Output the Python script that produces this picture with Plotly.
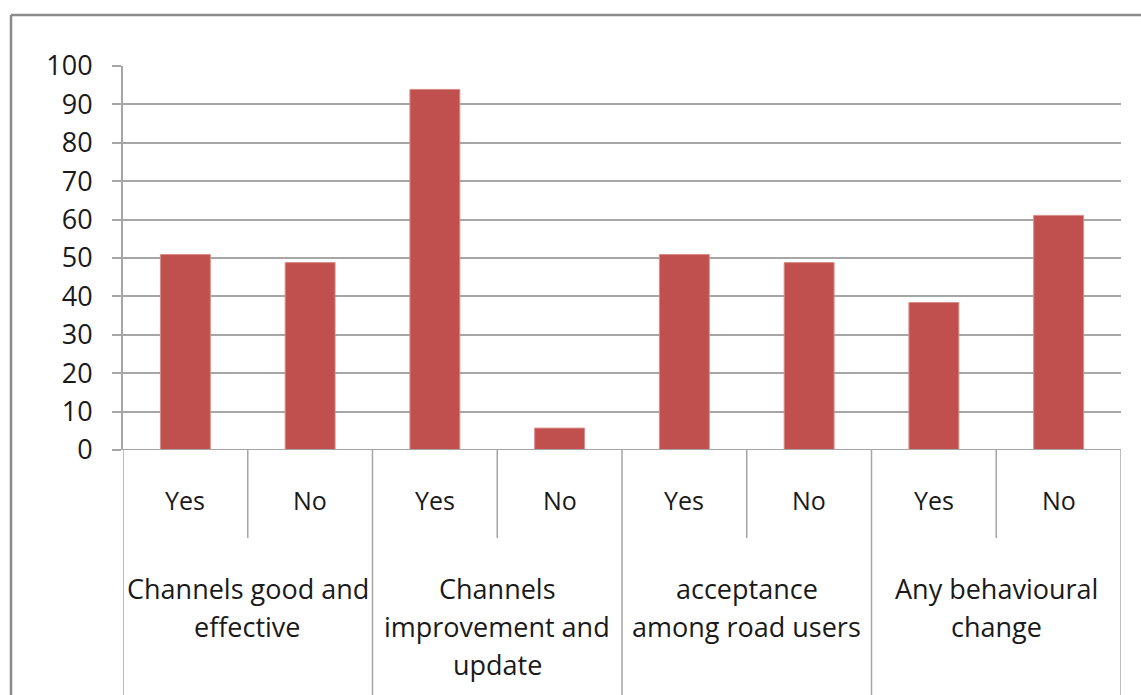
import plotly.graph_objects as go

# Survey responses (percent)
groups = [
    ["Channels good and", "effective"],
    ["Channels", "improvement and", "update"],
    ["acceptance", "among road users"],
    ["Any behavioural", "change"],
]
answers = ["Yes", "No", "Yes", "No", "Yes", "No", "Yes", "No"]
values = [50.9, 48.8, 93.9, 5.7, 50.9, 48.8, 38.4, 61.1]
y_ticks = [0, 10, 20, 30, 40, 50, 60, 70, 80, 90, 100]

W, H = 1141, 695
M_L, M_R, M_T, M_B = 123, 20, 66, 245
plot_h = H - M_T - M_B
FONT = "Open Sans"
TXT = "#1a1a1a"
GRID = "#a6a6a6"

def py(px_from_base):
    """paper y for a pixel distance below the x axis baseline"""
    return -px_from_base / plot_h

xs = list(range(len(values)))

fig = go.Figure(go.Bar(
    x=xs, y=values, width=0.4,
    marker=dict(color="#C0504D", line=dict(color="#d98c8a", width=1)),
    hoverinfo="skip",
))

shapes = []
annotations = []

# baseline extends into the tick zone on the left
shapes.append(dict(type="line", xref="paper", yref="y", x0=-9 / (W - M_L - M_R), x1=1,
                   y0=0, y1=0, line=dict(color=GRID, width=2)))

# answer labels and short dividers between them
n_per = 2
for i, a in enumerate(answers):
    annotations.append(dict(x=xs[i], y=py(50), xref="x", yref="paper", text=a,
                            showarrow=False, yanchor="middle", xanchor="center",
                            font=dict(family=FONT, size=25, color=TXT)))
for g in range(len(groups)):
    mid = g * n_per + 0.5
    shapes.append(dict(type="line", xref="x", yref="paper", x0=mid, x1=mid,
                       y0=0, y1=py(88), line=dict(color=GRID, width=1.5)))

# group dividers running to the bottom
for g in range(len(groups) + 1):
    bx = g * n_per - 0.5
    shapes.append(dict(type="line", xref="x", yref="paper", x0=bx, x1=bx,
                       y0=0, y1=py(260), line=dict(color=GRID, width=1.5)))

# group labels, one annotation per line
for g, lines in enumerate(groups):
    cx = g * n_per + 0.5
    for k, line in enumerate(lines):
        annotations.append(dict(x=cx, y=py(138 + 38 * k), xref="x", yref="paper",
                                text=line, showarrow=False, yanchor="middle",
                                xanchor="center",
                                font=dict(family=FONT, size=27, color=TXT)))

# chart frame (top and left edges visible)
pw = W - M_L - M_R
shapes.append(dict(type="line", xref="paper", yref="paper",
                   x0=(11 - M_L) / pw, x1=(W + 5 - M_L) / pw,
                   y0=(449.5 - 14.5) / plot_h, y1=(449.5 - 14.5) / plot_h,
                   line=dict(color="#8a8a8a", width=2.5)))
shapes.append(dict(type="line", xref="paper", yref="paper",
                   x0=(11 - M_L) / pw, x1=(11 - M_L) / pw,
                   y0=(449.5 - 14.5) / plot_h, y1=py(260),
                   line=dict(color="#8a8a8a", width=2.5)))

fig.update_layout(
    width=W, height=H,
    margin=dict(l=M_L, r=M_R, t=M_T, b=M_B),
    plot_bgcolor="white", paper_bgcolor="white",
    showlegend=False,
    shapes=shapes, annotations=annotations,
    xaxis=dict(range=[-0.5, len(values) - 0.5], showticklabels=False,
               showgrid=False, zeroline=False, showline=False, ticks="",
               fixedrange=True),
    yaxis=dict(range=[0, 100], tickvals=y_ticks, showgrid=True,
               gridcolor=GRID, gridwidth=2, zeroline=False,
               showline=True, linecolor=GRID, linewidth=2,
               ticks="outside", ticklen=9, tickwidth=2, tickcolor=GRID,
               ticklabelstandoff=14,
               tickfont=dict(family=FONT, size=27, color=TXT),
               fixedrange=True),
)

fig.write_html("out.html")
